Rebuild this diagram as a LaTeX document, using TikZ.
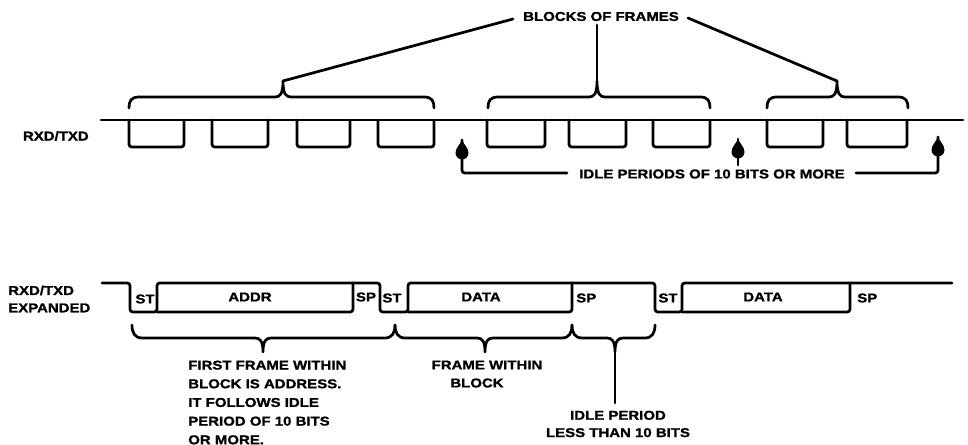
\documentclass[tikz,border=0pt]{standalone}
\usepackage{fontspec}
\setmainfont{Liberation Sans}[FakeStretch=1.17,BoldFeatures={FakeBold=1.2}]
\newcommand\lblfont{\fontsize{9.6}{14}\selectfont\bfseries}
% brace opening downward, tip pointing up (top row)
\newcommand\topbrace[4]{%
  \draw[conn] (#1,108) .. controls (#1,101) and (#1+2,97) .. (#1+10,97)
    -- (#2-8,97) .. controls (#2-3,97) and (#2,94) .. (#2,81)
    .. controls (#2,94) and (#2+3,97) .. (#2+8,97)
    -- (#3-10,97) .. controls (#3-2,97) and (#3,101) .. (#3,108);
  \coordinate (#4) at (#2,81);}
% brace opening upward, tip pointing down (bottom row)
\newcommand\botbrace[4]{%
  \draw[conn] (#1,325) .. controls (#1,333) and (#1+3,338) .. (#1+10,338)
    -- (#2-8,338) .. controls (#2-3,338) and (#2,341) .. (#2,352)
    .. controls (#2,341) and (#2+3,338) .. (#2+8,338)
    -- (#3-10,338) .. controls (#3-3,338) and (#3,333) .. (#3,325);
  \coordinate (#4) at (#2,352);}
% one frame box hanging under the top line
\newcommand\hangframe[2]{\draw[wave] (#1,120) -- (#1,147) -- (#2,147) -- (#2,120);}
\begin{document}
\begin{tikzpicture}[x=0.75pt,y=-0.75pt,
  wave/.style={line width=2.05pt,rounded corners=2pt,line cap=round,line join=round},
  conn/.style={line width=2.05pt,line cap=round,line join=round},
  lbl/.style={font=\lblfont,inner sep=0pt},
  teardrop/.pic={\fill (0,0) .. controls (1.5,4) and (6.5,8) .. (6.5,13)
      .. controls (6.5,17) and (3,19.5) .. (0,19.5)
      .. controls (-3,19.5) and (-6.5,17) .. (-6.5,13)
      .. controls (-6.5,8) and (-1.5,4) .. (0,0);}]
\useasboundingbox (0,0) rectangle (968,445);

% ---------------- top row ----------------
\node[lbl,anchor=east] (rxd) at (89,136) {RXD/TXD};
\draw[wave] (101,120) -- (963,120);
\hangframe{129}{184}
\hangframe{212}{268}
\hangframe{297}{350}
\hangframe{378}{434}
\hangframe{487}{545}
\hangframe{569}{626}
\hangframe{653}{710}
\hangframe{767}{823}
\hangframe{847}{907}

\topbrace{129}{283}{434}{p1}
\topbrace{488}{597}{710}{p2}
\topbrace{767}{837}{908}{p3}

\node[lbl] (blocks) at (601,16.5) {BLOCKS OF FRAMES};
\coordinate (bl) at (513,19);
\coordinate (bm) at (597,25);
\coordinate (br) at (688,18);
\draw[conn] (p1) -- (bl);
\draw[conn] (p2) -- (bm);
\draw[conn] (p3) -- (br);

\node[lbl] (idle) at (712,174) {IDLE PERIODS OF 10 BITS OR MORE};
\coordinate (a1) at (462,140);
\coordinate (a2) at (738,139);
\coordinate (a3) at (938,137);
\coordinate (i1) at (567,173);
\coordinate (i2) at (738,165);
\coordinate (i3) at (856,173);
\draw[conn,rounded corners=2pt] (a1) |- (i1);
\draw[conn] (a2) -- (i2);
\draw[conn,rounded corners=2pt] (a3) |- (i3);
\pic at (a1) {teardrop};
\pic at (a2) {teardrop};
\pic at (a3) {teardrop};

% ---------------- bottom row ----------------
\node[lbl,anchor=west,align=left] (rxdx) at (8,299) {RXD/TXD\\[-1pt]EXPANDED};
\draw[wave] (102,283) -- (130,283) -- (130,312) -- (157,312) -- (157,283)
  -- (380,283) -- (380,312) -- (408,312) -- (408,283)
  -- (655,283) -- (655,312) -- (682,312) -- (682,283) -- (952,283);
\draw[wave] (157,312) -- (353,312) -- (353,283);
\draw[wave] (408,312) -- (572,312) -- (572,283);
\draw[wave] (682,312) -- (850,312) -- (850,283);

\node[lbl] (st1) at (145,299) {ST};
\node[lbl] (addr) at (250,297) {ADDR};
\node[lbl] (sp1) at (366,297) {SP};
\node[lbl] (st2) at (392,298) {ST};
\node[lbl] (data1) at (481,297) {DATA};
\node[lbl,anchor=west] (sp2) at (576,298) {SP};
\node[lbl] (st3) at (668,298) {ST};
\node[lbl] (data2) at (763,297) {DATA};
\node[lbl,anchor=west] (sp3) at (857,298) {SP};

\botbrace{132}{263}{395}{t1}
\botbrace{395}{485}{572}{t2}
\botbrace{572}{615}{655}{t3}
\coordinate (s3) at (615,403);
\draw[conn] (t3) -- (s3);

\node[lbl,anchor=west,align=left] (first) at (188,402.5)
  {FIRST FRAME WITHIN\\BLOCK IS ADDRESS.\\IT FOLLOWS IDLE\\PERIOD OF 10 BITS\\OR MORE.};
\node[lbl] (fwb1) at (487,365) {FRAME WITHIN};
\node[lbl] (fwb2) at (477,383) {BLOCK};
\node[lbl,align=center] (ip) at (618,424) {IDLE PERIOD\\[-1pt]LESS THAN 10 BITS};
\end{tikzpicture}
\end{document}
